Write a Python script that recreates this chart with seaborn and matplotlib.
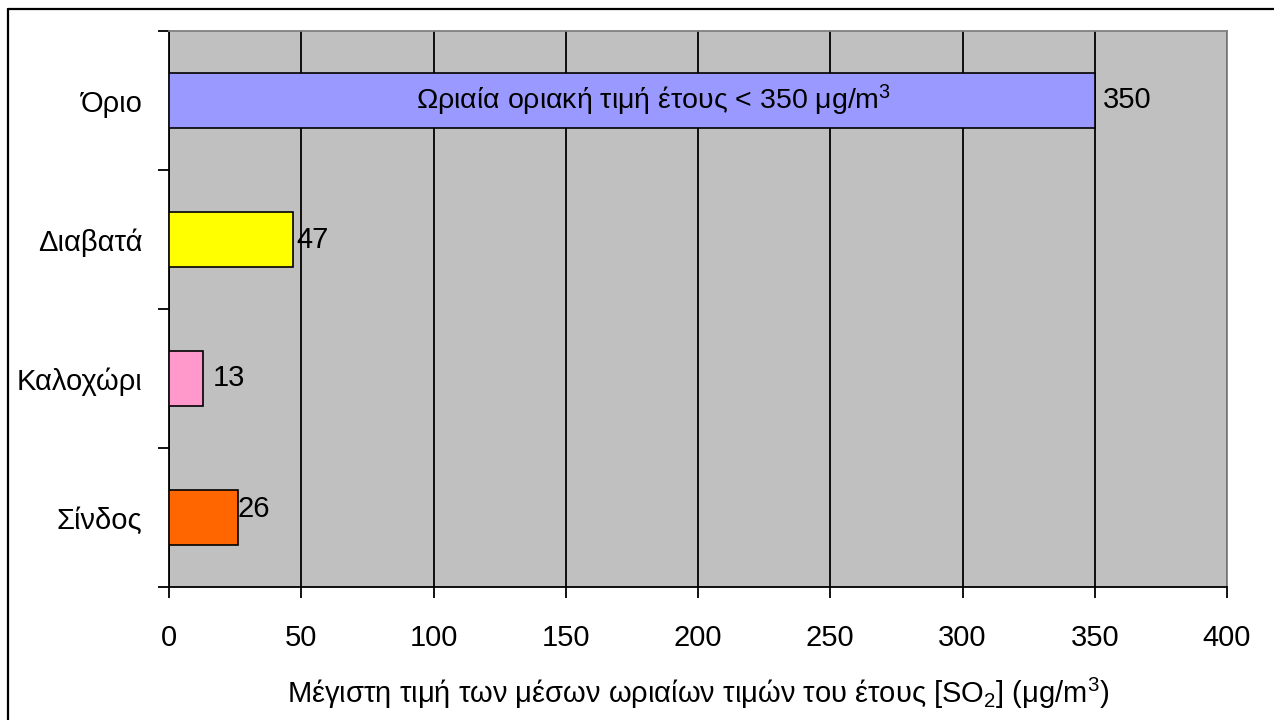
import matplotlib
matplotlib.use("Agg")
import matplotlib.pyplot as plt
import seaborn as sns
import pandas as pd
from matplotlib.lines import Line2D

categories = ["Όριο", "Διαβατά", "Καλοχώρι", "Σίνδος"]
values = [350, 47, 13, 26]
colors = ["#9999FF", "#FFFF00", "#FF99CC", "#FF6600"]
x_ticks = [0, 50, 100, 150, 200, 250, 300, 350, 400]
inner_text = "Ωριαία οριακή τιμή έτους < 350 μg/m$^3$"
x_label = "Μέγιστη τιμή των μέσων ωριαίων τιμών του έτους [SO$_2$] (μg/m$^3$)"
label_offsets = [(6, 0), (2, 0), (7, 0), (0, 6)]

sns.set_style("white")
plt.rcParams["font.family"] = ["Liberation Sans", "DejaVu Sans"]
plt.rcParams["mathtext.fontset"] = "custom"
plt.rcParams["mathtext.rm"] = "Liberation Sans"
plt.rcParams["mathtext.it"] = "Liberation Sans:italic"
plt.rcParams["mathtext.bf"] = "Liberation Sans:bold"
plt.rcParams["text.color"] = "black"
plt.rcParams["axes.labelcolor"] = "black"
plt.rcParams["xtick.labelcolor"] = "black"
plt.rcParams["ytick.labelcolor"] = "black"

df = pd.DataFrame({"cat": categories, "val": values})

fig = plt.figure(figsize=(12.74, 7.2), dpi=100)
ax = fig.add_axes([169/1274, 1-587/720, (1227-169)/1274, (587-31)/720])
ax.set_facecolor("#C0C0C0")

sns.barplot(data=df, x="val", y="cat", hue="cat", palette=colors, order=categories,
            hue_order=categories, orient="h", width=0.4, edgecolor="black",
            linewidth=1.2, legend=False, saturation=1, ax=ax, zorder=3)

ax.set_xlim(0, 400)
ax.set_ylim(3.5, -0.5)
ax.set_xticks(x_ticks)
ax.set_xticklabels([str(t) for t in x_ticks])
ax.xaxis.grid(True, color="black", linewidth=1.3, zorder=1)
ax.set_axisbelow(True)

ax.set_yticks(range(len(categories)))
ax.set_yticklabels(categories)
ax.set_yticks([i - 0.5 for i in range(len(categories) + 1)], minor=True)
ax.tick_params(axis="y", which="major", length=0, pad=19, labelsize=21)
ax.tick_params(axis="y", which="minor", length=8, width=1.3, color="black", direction="out", left=True)
ax.tick_params(axis="x", which="major", length=8, width=1.3, color="black", direction="out",
               bottom=True, pad=18.5, labelsize=21)
ax.set_ylabel("")
ax.set_xlabel(x_label, fontsize=21, labelpad=17)

for side in ["left", "bottom"]:
    ax.spines[side].set_color("black")
    ax.spines[side].set_linewidth(1.3)
for side in ["top", "right"]:
    ax.spines[side].set_color("#808080")
    ax.spines[side].set_linewidth(1.3)

for i, (v, off) in enumerate(zip(values, label_offsets)):
    ax.annotate(str(v), xy=(v, i), xytext=off, textcoords="offset points",
                ha="left", va="center", fontsize=21, color="black", zorder=5)

ax.annotate(inner_text, xy=(values[0] / 2, 0), xytext=(16, 0), textcoords="offset points",
            ha="center", va="center", fontsize=20.5, color="black", zorder=5)

fig.add_artist(Line2D([8/1274, 1], [1-9/720, 1-9/720], color="black", linewidth=1.6,
                      transform=fig.transFigure))
fig.add_artist(Line2D([8/1274, 8/1274], [0, 1-9/720], color="black", linewidth=1.6,
                      transform=fig.transFigure))

fig.savefig("out.png", dpi=100, facecolor="white")
